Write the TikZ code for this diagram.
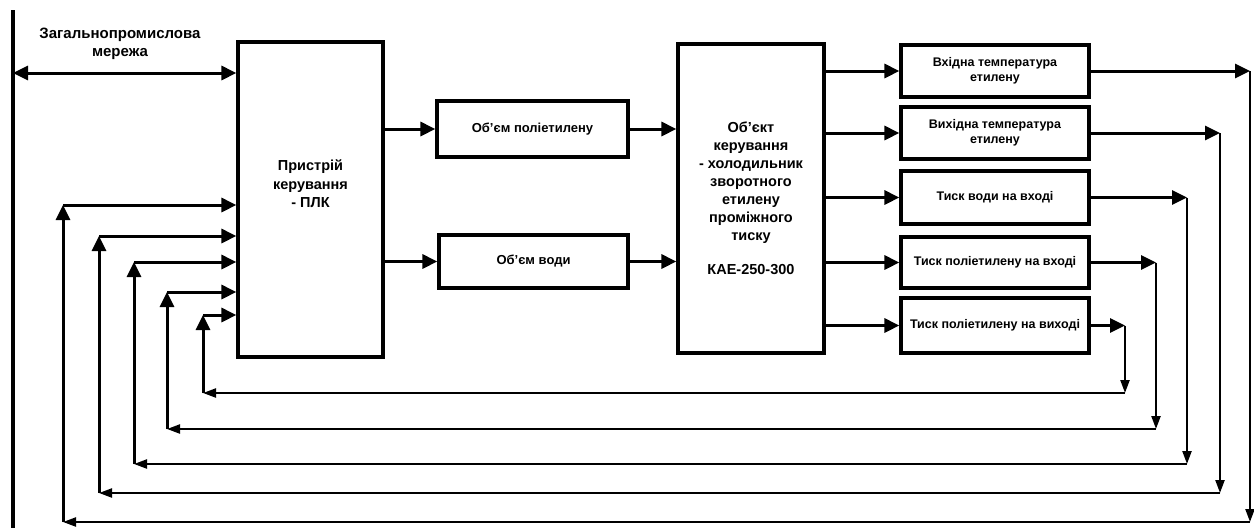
\documentclass[tikz,border=0pt]{standalone}
\usepackage{fontspec}
\setmainfont{Liberation Sans}
\usetikzlibrary{positioning, arrows.meta, calc}

\begin{document}
\begin{tikzpicture}[
  x=1pt, y=-1pt,
  blk/.style={draw, line width=3.2pt, inner sep=0pt},
  param/.style={blk, minimum width=188pt, align=center,
                font=\bfseries\fontsize{12.5}{15}\selectfont},
  txt/.style={align=center, font=\bfseries\fontsize{14.5}{18.5}\selectfont},
  arr/.style={line width=3pt, -{Triangle[length=15pt,width=14pt]}},
  back/.style={line width=2.2pt, -{Triangle[length=13pt,width=9pt]}},
  both/.style={line width=3pt, {Triangle[length=15pt,width=14pt]}-{Triangle[length=15pt,width=14pt]}},
]
  \useasboundingbox (0,0) rectangle (1254,528);

  \coordinate (bus-top) at (13,10);
  \coordinate (bus-bot) at (13,528);
  \draw[line width=3.5pt] (bus-top) -- (bus-bot);

  \node[blk, minimum width=145pt, minimum height=315pt] (plc) at (310.5,199.5) {};
  \node[txt] (plc-t) at (310.5,184) {Пристрій\\керування\\- ПЛК};
  \node[txt, font=\bfseries\fontsize{15}{18}\selectfont] (net) at (120,44) {Загальнопромислова\\мережа};
  \coordinate (bus-net) at (13,73);
  \draw[both] (bus-net) -- (bus-net -| plc.west);

  \node[blk, minimum width=191pt, minimum height=56pt, font=\bfseries\fontsize{13}{15}\selectfont]
    (vpe) at (532.5,129) {Об’єм поліетилену};
  \node[blk, minimum width=189pt, minimum height=53pt, font=\bfseries\fontsize{13}{15}\selectfont]
    (vw) at (533.5,261.5) {Об’єм води};

  \node[blk, minimum width=146pt, minimum height=309pt, align=center,
        font=\bfseries\fontsize{14.5}{18}\selectfont] (obj) at (751,198.5)
    {Об’єкт\\керування\\- холодильник\\зворотного\\етилену\\проміжного\\тиску\\[16pt]КАЕ-250-300};

  \draw[arr] (plc.east |- vpe.west) -- (vpe.west);
  \draw[arr] (plc.east |- vw.west) -- (vw.west);
  \draw[arr] (vpe.east) -- (obj.west |- vpe.east);
  \draw[arr] (vw.east) -- (obj.west |- vw.east);

  \node[param, minimum height=52pt] (o1) at (995,71) {Вхідна температура\\етилену};
  \node[param, minimum height=52pt] (o2) at (995,133) {Вихідна температура\\етилену};
  \node[param, minimum height=53pt] (o3) at (995,197.5) {Тиск води на вході};
  \node[param, minimum height=51pt] (o4) at (995,262.5) {Тиск поліетилену на вході};
  \node[param, minimum height=55pt] (o5) at (995,325.5) {Тиск поліетилену на виході};

  \foreach \i/\oy/\rx/\by/\lx/\iy in {1/71/1250/522/63/205, 2/133/1220/493/99/236,
      3/197.5/1187/464/134/262, 4/262.5/1156/429/167/292, 5/325.5/1125/393/203/315}{
    \draw[arr] (obj.east |- o\i.west) -- (o\i.west);
    \coordinate (r\i) at (\rx,\oy);
    \coordinate (b\i) at (\rx,\by);
    \coordinate (l\i) at (\lx,\by);
    \coordinate (u\i) at (\lx,\iy);
    \draw[arr] (o\i.east) -- (r\i);
    \draw[back] (r\i) -- (b\i);
    \draw[back] (b\i) -- (l\i);
    \draw[arr] (l\i) -- (u\i);
    \draw[arr] (u\i) -- (u\i -| plc.west);
  }
\end{tikzpicture}
\end{document}
